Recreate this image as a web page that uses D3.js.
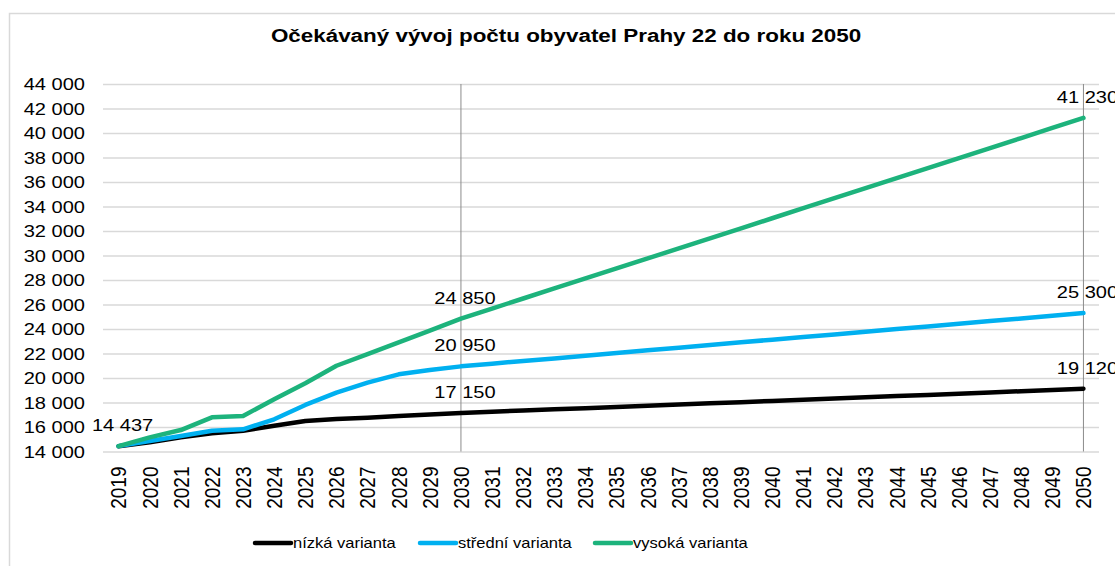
<!DOCTYPE html>
<html>
<head>
<meta charset="utf-8">
<script src="https://cdn.jsdelivr.net/npm/d3@7"></script>
<style>
  body { margin: 0; background: #fff; }
  svg { display: block; font-family: "Liberation Sans", Arial, sans-serif; }
</style>
</head>
<body>
<div id="chart"></div>
<script>
// data
const roky = [2019, 2020, 2021, 2022, 2023, 2024, 2025, 2026, 2027, 2028, 2029, 2030,
  2031, 2032, 2033, 2034, 2035, 2036, 2037, 2038, 2039, 2040,
  2041, 2042, 2043, 2044, 2045, 2046, 2047, 2048, 2049, 2050];

const nizka = [14437, 14750, 15160, 15480, 15700, 16100, 16490, 16650, 16760, 16900, 17020, 17150,
  17250, 17340, 17440, 17540, 17640, 17730, 17830, 17930, 18030, 18130,
  18230, 18330, 18430, 18530, 18620, 18720, 18820, 18920, 19020, 19120];

const stredni = [14437, 14850, 15265, 15700, 15810, 16630, 17800, 18800, 19620, 20300, 20650, 20950,
  21170, 21390, 21600, 21820, 22040, 22260, 22470, 22690, 22910, 23130,
  23340, 23560, 23780, 24000, 24210, 24430, 24650, 24860, 25080, 25300];

const vysoka = [14437, 15150, 15750, 16790, 16900, 18260, 19570, 21000, 21950, 22900, 23870, 24850,
  25670, 26490, 27310, 28130, 28950, 29760, 30580, 31400, 32220, 33040,
  33860, 34680, 35500, 36320, 37130, 37950, 38770, 39590, 40410, 41230];

const serieNavne = ["nízká varianta", "střední varianta", "vysoká varianta"];
const serieFarver = ["#000000", "#00b0f0", "#1db37c"];
const yTicks = [14000, 16000, 18000, 20000, 22000, 24000, 26000, 28000, 30000,
  32000, 34000, 36000, 38000, 40000, 42000, 44000];
const markeredeRoky = [2030, 2050]; // lodrette linjer + labels
const titel = "Očekávaný vývoj počtu obyvatel Prahy 22 do roku 2050";

// dimensioner
const bredde = 1115;
const hoejde = 566;
const plot = { left: 103, right: 1099, top: 84, bottom: 451.5 };
const stretch = 1.18; // teksten er strakt lidt vandret i originalen

const fmt = d3.formatLocale({ decimal: ",", thousands: " ", grouping: [3], currency: ["", ""] }).format(",d");

const svg = d3
  .select("#chart")
  .append("svg")
  .attr("width", bredde)
  .attr("height", hoejde);

// ramme om grafen
svg
  .append("rect")
  .attr("x", 9.5)
  .attr("y", 13.5)
  .attr("width", 1200)
  .attr("height", 700)
  .attr("fill", "#fff")
  .attr("stroke", "#d9d9d9")
  .attr("stroke-width", 1.5);

// skalaer
const x = d3.scaleBand().domain(roky).range([plot.left, plot.right]).padding(0);
const cx = (r) => x(r) + x.bandwidth() / 2;
const y = d3.scaleLinear().domain([14000, 44000]).range([plot.bottom, plot.top]);

// titel
svg
  .append("text")
  .attr("transform", `translate(566,42) scale(${stretch},1)`)
  .attr("text-anchor", "middle")
  .style("font-size", "19px")
  .style("font-weight", "bold")
  .attr("fill", "#000")
  .text(titel);

// y akse med gitterlinjer
const yAxis = svg
  .append("g")
  .attr("transform", `translate(${plot.left},0)`)
  .call(
    d3.axisLeft(y)
      .tickValues(yTicks)
      .tickFormat(fmt)
      .tickSize(-(plot.right - plot.left))
  );
yAxis.select(".domain").remove();
yAxis.selectAll("line").attr("stroke", "#d9d9d9").attr("stroke-width", 1.5);
yAxis
  .selectAll("text")
  .attr("x", null)
  .attr("dy", "0.35em")
  .attr("transform", `translate(-18,0) scale(${stretch},1)`)
  .attr("text-anchor", "end")
  .attr("fill", "#000")
  .style("font-size", "17px")
  .style("font-family", "'Liberation Sans', Arial, sans-serif");

// x akse labels (roteret)
const xAxis = svg
  .append("g")
  .attr("transform", `translate(0,${plot.bottom})`)
  .call(d3.axisBottom(x).tickSize(0));
xAxis.select(".domain").remove();
xAxis
  .selectAll("text")
  .attr("y", null)
  .attr("dy", "0.35em")
  .attr("transform", `translate(0,15) scale(${stretch},1) rotate(-90)`)
  .attr("text-anchor", "end")
  .attr("fill", "#000")
  .style("font-size", "19px")
  .style("font-family", "'Liberation Sans', Arial, sans-serif");

// lodrette linjer ved 2030 og 2050
svg
  .selectAll(".vline")
  .data(markeredeRoky)
  .enter()
  .append("line")
  .attr("class", "vline")
  .attr("x1", (d) => cx(d))
  .attr("x2", (d) => cx(d))
  .attr("y1", plot.top)
  .attr("y2", plot.bottom)
  .attr("stroke", "#8c8c8c")
  .attr("stroke-width", 1);

// serier
const serier = [nizka, stredni, vysoka].map((v, i) => ({
  navn: serieNavne[i],
  farve: serieFarver[i],
  punkter: roky.map((r, j) => ({ rok: r, v: v[j] })),
}));

const linje = d3
  .line()
  .x((d) => cx(d.rok))
  .y((d) => y(d.v));

svg
  .selectAll(".serie")
  .data(serier)
  .enter()
  .append("path")
  .attr("class", "serie")
  .attr("d", (d) => linje(d.punkter))
  .attr("fill", "none")
  .attr("stroke", (d) => d.farve)
  .attr("stroke-width", 4.5)
  .attr("stroke-linejoin", "round")
  .attr("stroke-linecap", "round");

// datalabels: start + 2030 + 2050
const labels = [{ rok: roky[0], v: nizka[0] }];
serier.forEach((s) => {
  s.punkter
    .filter((p) => markeredeRoky.includes(p.rok))
    .forEach((p) => labels.push(p));
});

svg
  .selectAll(".dlabel")
  .data(labels)
  .enter()
  .append("text")
  .attr("class", "dlabel")
  .attr("transform", (d) => `translate(${cx(d.rok) + 4},${y(d.v) - 15}) scale(${stretch},1)`)
  .attr("text-anchor", "middle")
  .attr("fill", "#000")
  .style("font-size", "17px")
  .text((d) => fmt(d.v));

// legend
const legendX = [255, 420, 595];
const legend = svg
  .selectAll(".legend")
  .data(serier)
  .enter()
  .append("g")
  .attr("class", "legend")
  .attr("transform", (d, i) => `translate(${legendX[i]},543)`);

legend
  .append("line")
  .attr("x1", 0)
  .attr("x2", 36)
  .attr("stroke", (d) => d.farve)
  .attr("stroke-width", 4.5)
  .attr("stroke-linecap", "round");

legend
  .append("text")
  .attr("transform", `translate(38,0) scale(${stretch},1)`)
  .attr("dy", "0.35em")
  .attr("fill", "#000")
  .style("font-size", "14px")
  .text((d) => d.navn);
</script>
</body>
</html>
